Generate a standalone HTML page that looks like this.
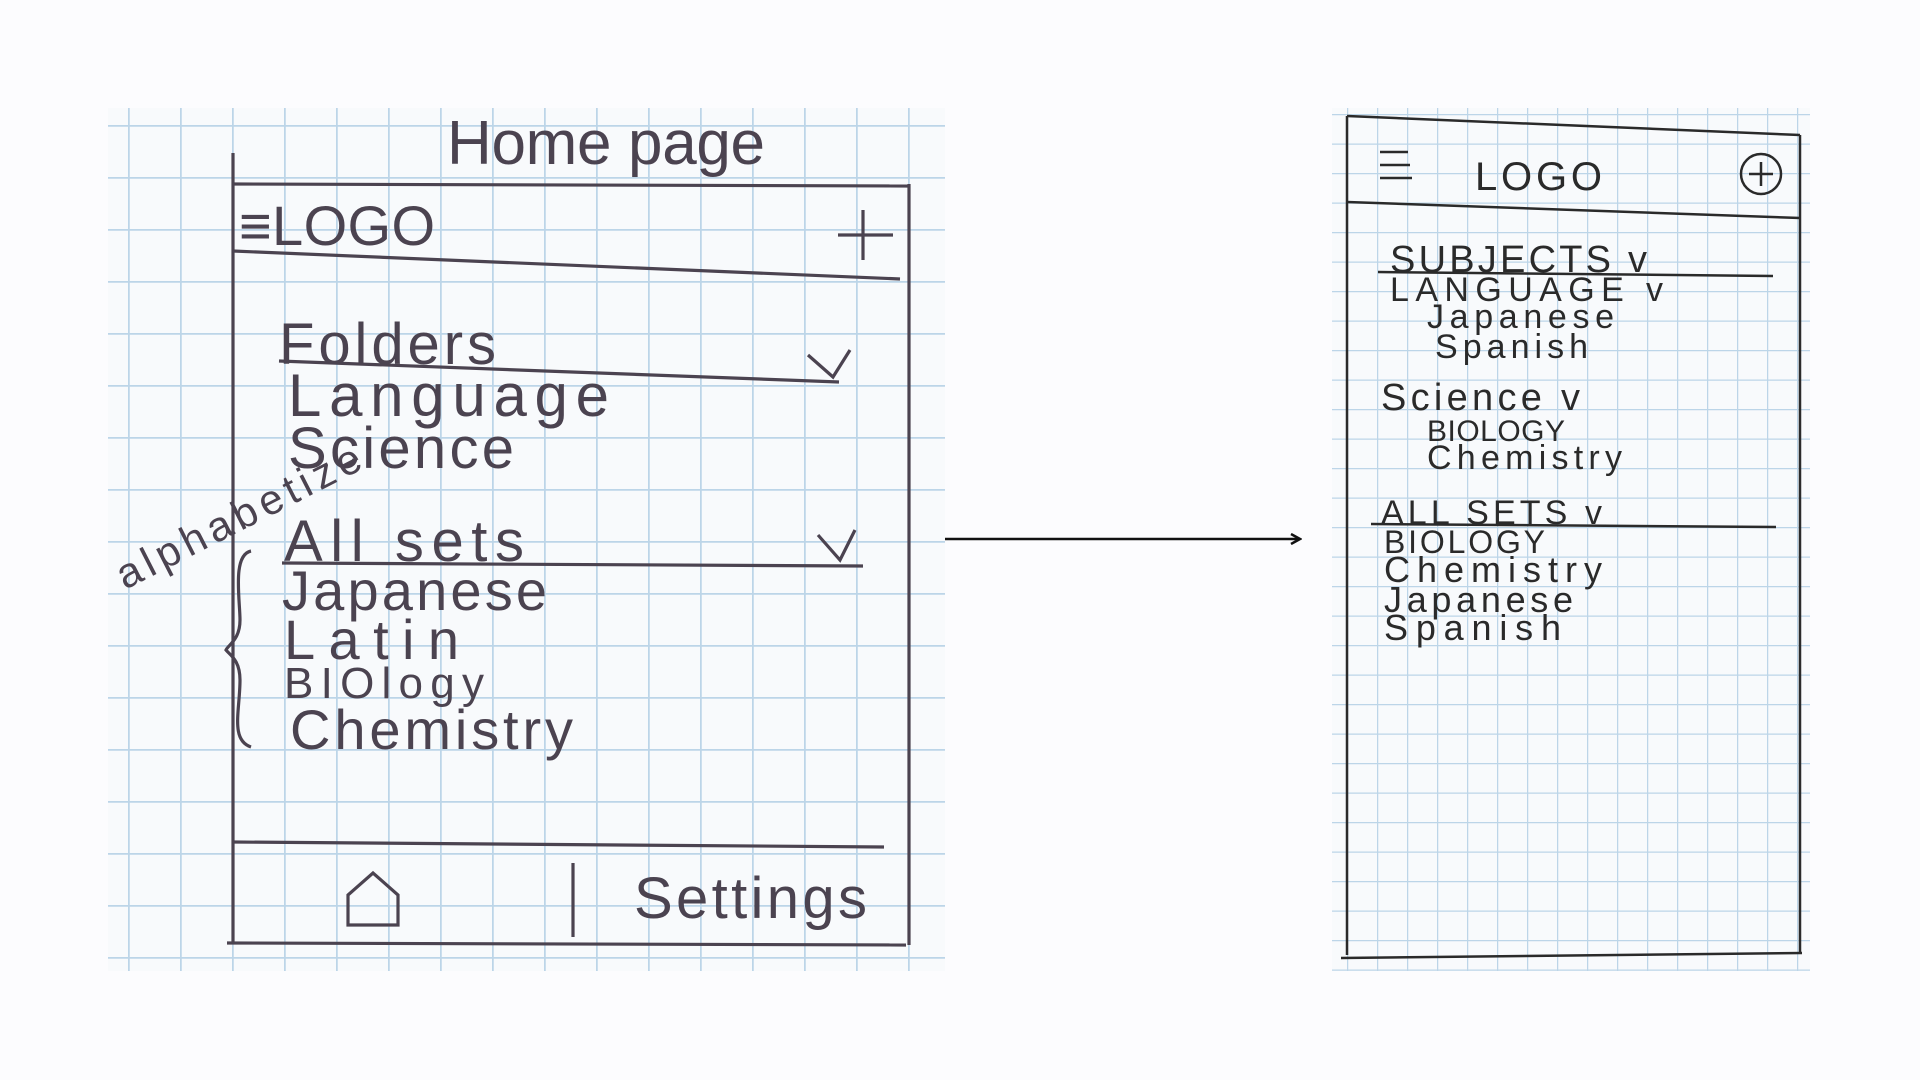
<!DOCTYPE html>
<html><head><meta charset="utf-8"><style>
html,body{margin:0;padding:0;background:#fcfcfe;}
svg{display:block}
text{font-family:"Liberation Sans",sans-serif;}
</style></head><body>
<svg width="1920" height="1080" viewBox="0 0 1920 1080" xmlns="http://www.w3.org/2000/svg">
<defs>
<pattern id="gl" x="128" y="125" width="52" height="52" patternUnits="userSpaceOnUse">
<rect width="52" height="52" fill="#f8fafc"/>
<path d="M0 0V52M0 0H52" stroke="#bcd5e8" stroke-width="3.5"/>
</pattern>
<pattern id="gr" x="1377" y="114" width="30" height="29.5" patternUnits="userSpaceOnUse">
<rect width="30" height="29.5" fill="#f8fafc"/>
<path d="M0 0V29.5M0 0H30" stroke="#bcd5e8" stroke-width="2.5"/>
</pattern>
<clipPath id="cl"><rect x="108" y="108" width="837" height="863"/></clipPath>
<marker id="ah" markerWidth="12" markerHeight="12" refX="10" refY="6" orient="auto" markerUnits="userSpaceOnUse">
<path d="M1 1L10 6L1 11" fill="none" stroke="#111" stroke-width="2.5"/>
</marker>
</defs>
<rect x="108" y="108" width="837" height="863" fill="url(#gl)"/>
<rect x="1332" y="108" width="478" height="863" fill="url(#gr)"/>

<g clip-path="url(#cl)" fill="#4b4350" stroke="#4b4350">
<text x="447" y="164" font-size="62" textLength="318" stroke="none">Home page</text>
<g stroke-width="3.2" fill="none">
<path d="M233 153L233 943"/><path d="M909 184L909 945"/><path d="M233 184L909 186"/>
<path d="M233 251L900 279"/>
<path d="M279 361L839 382"/>
<path d="M282 563L863 566"/>
<path d="M233 842L884 847"/>
<path d="M227 943L906 945"/>
<path d="M573 863L573 937"/>
<path d="M863 210V260M838 235H893"/>
<path d="M808 355L833 377L850 350"/>
<path d="M818 535L840 560L855 530"/>
<path d="M251 551C232 555 240 600 240 620C240 640 228 645 226 650C230 655 240 660 240 680C240 710 230 740 251 747"/>
<path d="M348 925L348 895L373 873L398 895L398 925Z"/>
</g>
<g stroke="none">
<text x="239" y="245" font-size="56" textLength="196">≡LOGO</text>
<text x="279" y="364" font-size="58" textLength="217">Folders</text>
<text x="288" y="416" font-size="60" textLength="321">Language</text>
<text x="288" y="468" font-size="58" textLength="226">Science</text>
<text x="284" y="561" font-size="58" textLength="240">All sets</text>
<text x="282" y="610" font-size="56" textLength="265">Japanese</text>
<text x="284" y="659" font-size="56" textLength="175">Latin</text>
<text x="284" y="698" font-size="44" textLength="200">BIOlogy</text>
<text x="290" y="749" font-size="56" textLength="283">Chemistry</text>
<text x="634" y="918" font-size="58" textLength="233">Settings</text>
<text x="0" y="0" font-size="42" textLength="269" transform="translate(125,590) rotate(-27)">alphabetize</text>
</g>
</g>

<g fill="#2a2a2a" stroke="#2a2a2a">
<g stroke-width="2.5" fill="none">
<path d="M1347 116L1347 955"/><path d="M1800 135L1800 953"/><path d="M1347 116L1800 135"/>
<path d="M1347 202L1800 218"/>
<path d="M1378 272L1773 276"/>
<path d="M1371 524L1776 527"/>
<path d="M1341 958L1802 953"/>
<path d="M1380 152H1408M1380 165H1410M1380 178H1412"/>
<circle cx="1761" cy="174" r="20"/>
<path d="M1761 162V186M1749 174H1773"/>
</g>
<g stroke="none">
<text x="1475" y="190" font-size="40" textLength="127">LOGO</text>
<text x="1390" y="272" font-size="38" textLength="257">SUBJECTS v</text>
<text x="1390" y="301" font-size="34" textLength="273">LANGUAGE v</text>
<text x="1427" y="328" font-size="34" textLength="187">Japanese</text>
<text x="1435" y="358" font-size="34" textLength="153">Spanish</text>
<text x="1381" y="410" font-size="38" textLength="199">Science v</text>
<text x="1427" y="441" font-size="30" textLength="138">BIOLOGY</text>
<text x="1427" y="469" font-size="34" textLength="195">Chemistry</text>
<text x="1381" y="524" font-size="34" textLength="221">ALL SETS v</text>
<text x="1384" y="553" font-size="32" textLength="161">BIOLOGY</text>
<text x="1384" y="582" font-size="36" textLength="218">Chemistry</text>
<text x="1384" y="612" font-size="36" textLength="189">Japanese</text>
<text x="1384" y="640" font-size="36" textLength="177">Spanish</text>
</g>
</g>

<path d="M945 539H1300" stroke="#111" stroke-width="2.5" marker-end="url(#ah)"/>
</svg>
</body></html>
